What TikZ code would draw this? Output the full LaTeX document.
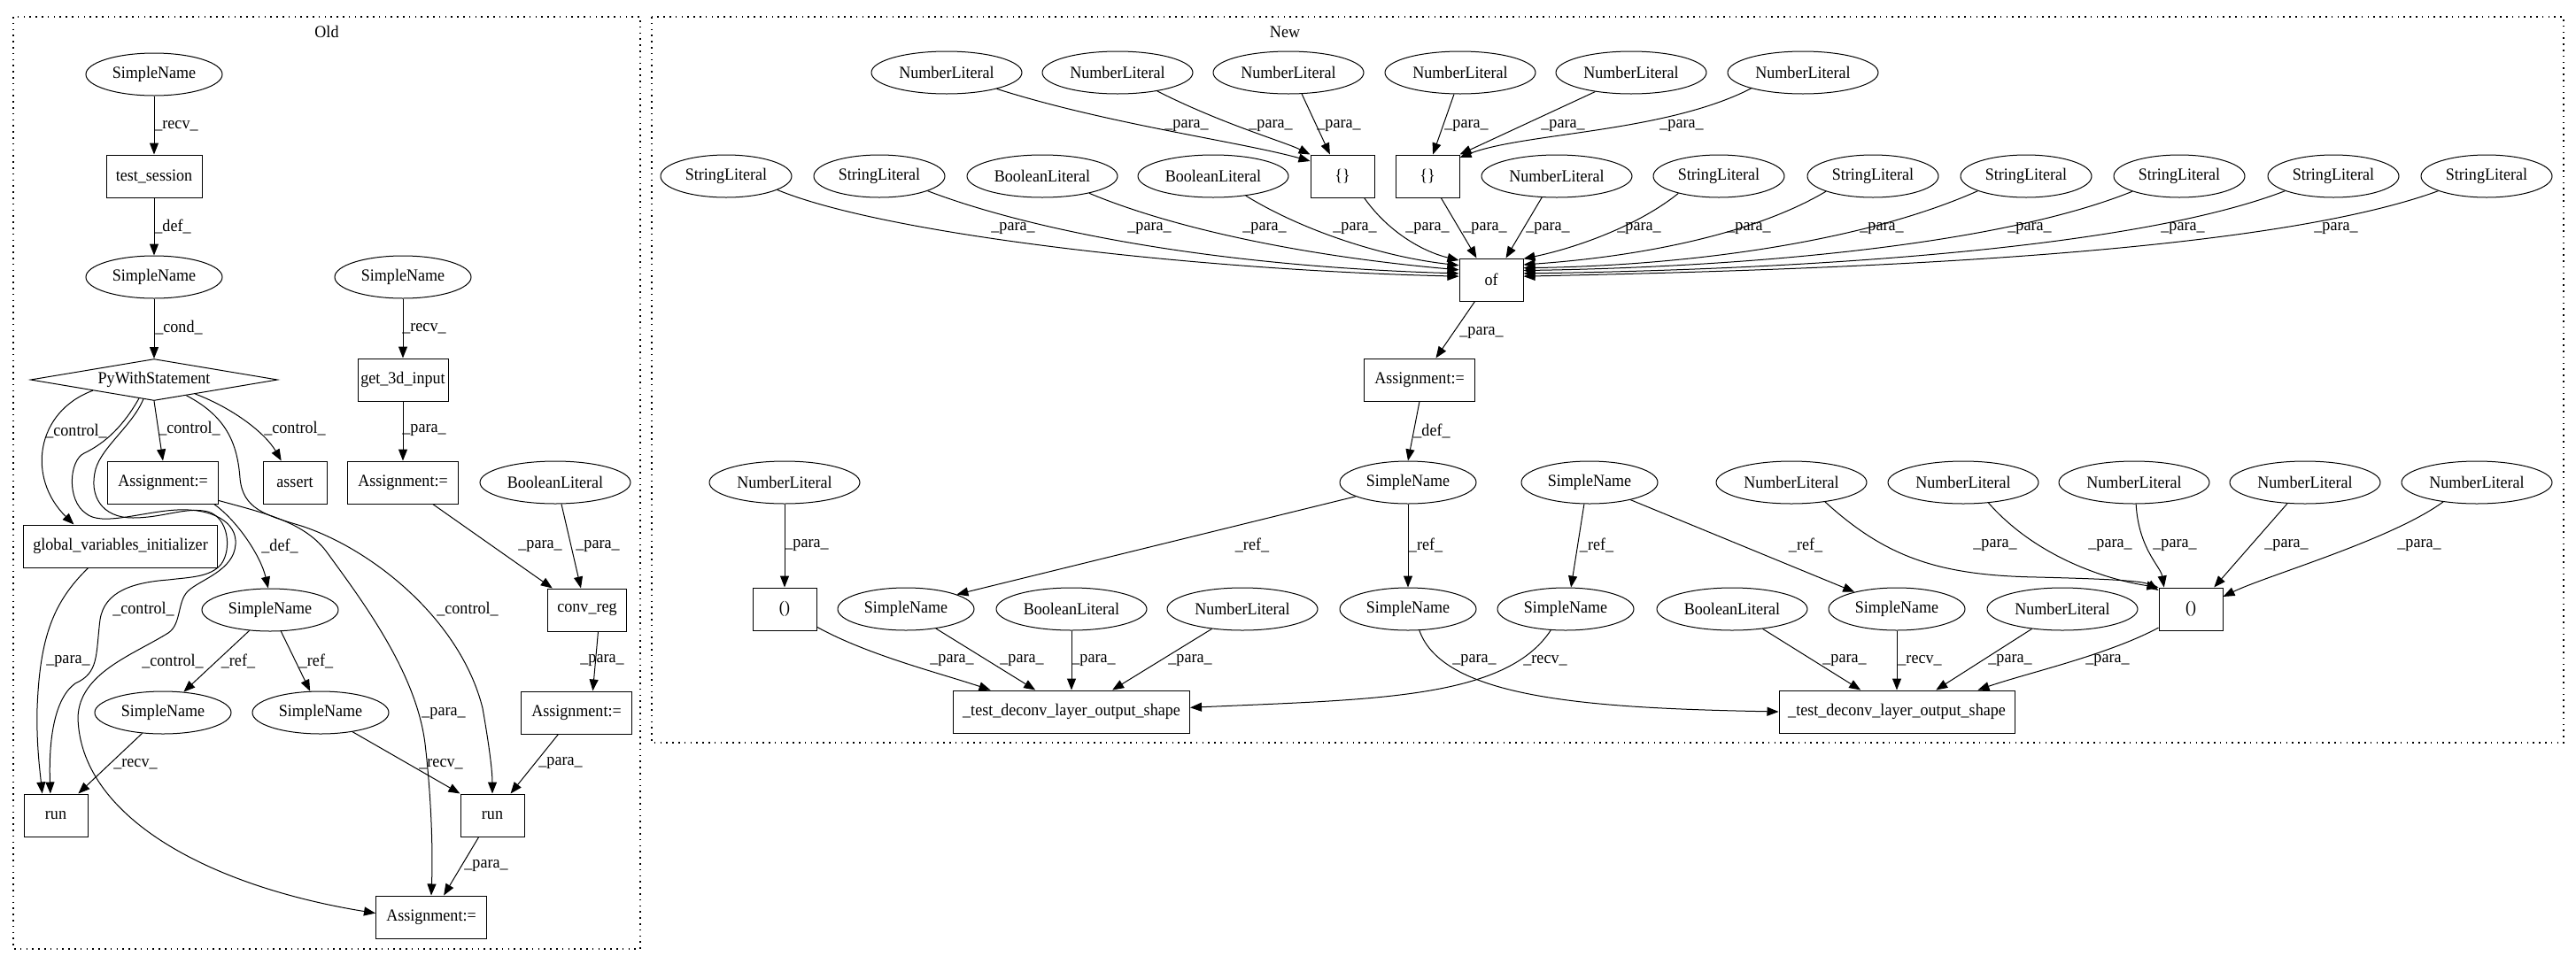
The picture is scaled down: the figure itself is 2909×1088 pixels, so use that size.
\documentclass[tikz,border=0pt]{standalone}
\usepackage{fontspec}
\setmainfont{Liberation Serif}[FakeStretch=0.94]
\usetikzlibrary{shapes.geometric,arrows.meta}
\newcommand\Lpara{\_para\_}
\newcommand\Lref{\_ref\_}
\newcommand\Lrecv{\_recv\_}
\newcommand\Ldef{\_def\_}
\newcommand\Lctrl{\_control\_}
\newcommand\Lcond{\_cond\_}
\begin{document}
\begin{tikzpicture}[x=0.5pt,y=-0.5pt,
  every node/.style={font=\fontsize{9.6}{10}\selectfont},
  ell/.style={draw,ellipse,line width=0.5pt,minimum width=77pt,minimum height=24pt,inner sep=0pt},
  nl/.style={ell,minimum width=85pt},
  sl/.style={ell,minimum width=74pt},
  bx/.style={draw,rectangle,line width=0.5pt,minimum height=24pt,inner sep=0pt},
  e/.style={draw,line width=0.5pt,-{Triangle[length=6.5pt,width=5pt]}},
  lbl/.style={inner sep=0pt},
  clu/.style={draw,line width=0.7pt,dash pattern=on 0.8pt off 2.6pt}]
\fill[white] (0,0) rectangle (2909,1088);
\useasboundingbox (0,0) rectangle (2909,1088);
% clusters
\draw[clu] (15,19) rectangle (723,1072);
\draw[clu] (736,19) rectangle (2895,839);
\node (oldlbl) at (369,36) {Old};
\node (newlbl) at (1451,36) {New};
% ---------------- Old ----------------
\node[ell] (osn1) at (174,84) {SimpleName};
\node[bx,minimum width=54pt] (ots) at (174,199) {test\_session};
\node[ell] (osn2) at (174,313) {SimpleName};
\node[draw,diamond,aspect=5.8,inner sep=0pt,minimum width=139.5pt,minimum height=23.5pt,line width=0.5pt] (opws) at (174,429) {PyWithStatement};
\node[ell] (osn3) at (455,313) {SimpleName};
\node[bx,minimum width=51pt] (og3d) at (455,429) {get\_3d\_input};
\node[bx,minimum width=62.5pt] (oas1) at (184,545) {Assignment:=};
\node[bx,minimum width=36pt] (oassert) at (333,545) {assert};
\node[bx,minimum width=62.5pt] (oas2) at (455,545) {Assignment:=};
\node[nl] (obl) at (627,545) {BooleanLiteral};
\node[bx,minimum width=109.5pt] (ogvi) at (136,617) {global\_variables\_initializer};
\node[ell] (osn4) at (305,689) {SimpleName};
\node[bx,minimum width=44.5pt] (oconv) at (663,689) {conv\_reg};
\node[ell] (osn5) at (184,805) {SimpleName};
\node[ell] (osn6) at (362,805) {SimpleName};
\node[bx,minimum width=62.5pt] (oas3) at (651,805) {Assignment:=};
\node[bx,minimum width=36pt] (orun1) at (63,921) {run};
\node[bx,minimum width=36pt] (orun2) at (556,921) {run};
\node[bx,minimum width=62.5pt] (oas4) at (487,1036) {Assignment:=};

\draw[e] (osn1) -- (ots);
\draw[e] (ots) -- (osn2);
\draw[e] (osn2) -- (opws);
\draw[e] (osn3) -- (og3d);
\draw[e] (og3d) -- (oas2);
\draw[e] (opws.south) -- (oas1.north);
\draw[e] (opws.-19) .. controls (265,462) and (300,490) .. (oassert.122);
\draw[e] (opws.-26) .. controls (255,470) and (268,500) .. (271,540) .. controls (274,575) and (300,582) .. (340,594) .. controls (420,620) and (520,700) .. (545,800) .. controls (552,840) and (556,870) .. (orun2.north);
\draw[e] (opws.190) .. controls (40,465) and (30,540) .. (ogvi.155);
\draw[e] (opws.231) .. controls (140,480) and (120,500) .. (95,512) .. controls (78,520) and (75,565) .. (97,580) .. controls (115,595) and (160,578) .. (200,576) .. controls (240,574) and (268,590) .. (266,615) .. controls (264,645) and (225,655) .. (212,668) .. controls (200,680) and (205,705) .. (190,715) .. controls (150,740) and (90,760) .. (88,810) .. controls (90,920) and (230,1000) .. (oas4.176);
\draw[e] (opws.241) .. controls (150,480) and (115,505) .. (108,530) .. controls (100,560) and (115,585) .. (150,585) .. controls (185,585) and (210,572) .. (235,578) .. controls (258,585) and (262,620) .. (250,637) .. controls (238,652) and (215,652) .. (190,655) .. controls (150,658) and (118,668) .. (113,700) .. controls (108,740) and (112,760) .. (85,772) .. controls (60,790) and (55,840) .. (orun1.104);
\draw[e] (ogvi.214) .. controls (60,680) and (45,720) .. (42,800) .. controls (41,840) and (45,870) .. (orun1.122);
\draw[e] (oas1.-23) .. controls (270,590) and (295,630) .. (osn4.95);
\draw[e] (oas1.-18) .. controls (300,580) and (345,590) .. (370,625) .. controls (410,680) and (470,760) .. (480,840) .. controls (487,900) and (489,960) .. (oas4.north);
\draw[e] (osn4.225) -- (osn5.45);
\draw[e] (osn4.-63) -- (osn6.116);
\draw[e] (osn5.225) -- (orun1.44);
\draw[e] (osn6.-31) -- (orun2.north west);
\draw[e] (obl.-74) -- (oconv.106);
\draw[e] (oas2.-36) -- (oconv.148);
\draw[e] (oconv.-63) -- (oas3.53);
\draw[e] (oas3.230) -- (orun2.50);
\draw[e] (orun2.238) -- (oas4.60);

\node[lbl] (ol1) at (199,142) {\Lrecv};
\node[lbl] (ol2) at (195,256) {\Ldef};
\node[lbl] (ol3) at (202,370) {\Lcond};
\node[lbl] (ol4) at (479,371) {\Lrecv};
\node[lbl] (ol5) at (86,487) {\Lctrl};
\node[lbl] (ol6) at (214,484) {\Lctrl};
\node[lbl] (ol7) at (333,484) {\Lctrl};
\node[lbl] (ol8) at (479,486) {\Lpara};
\node[lbl] (ol9) at (610,617) {\Lpara};
\node[lbl] (ol10) at (675,617) {\Lpara};
\node[lbl] (ol11) at (316,617) {\Ldef};
\node[lbl] (ol12) at (162,688) {\Lctrl};
\node[lbl] (ol13) at (528,688) {\Lctrl};
\node[lbl] (ol14) at (77,747) {\Lpara};
\node[lbl] (ol15) at (195,747) {\Lctrl};
\node[lbl] (ol16) at (269,747) {\Lref};
\node[lbl] (ol17) at (357,747) {\Lref};
\node[lbl] (ol18) at (680,746) {\Lpara};
\node[lbl] (ol19) at (501,806) {\Lpara};
\node[lbl] (ol20) at (153,863) {\Lrecv};
\node[lbl] (ol21) at (498,863) {\Lrecv};
\node[lbl] (ol22) at (633,862) {\Lpara};
\node[lbl] (ol23) at (549,978) {\Lpara};

% ---------------- New ----------------
\node[nl] (nt1) at (1069,82) {NumberLiteral};
\node[nl] (nt2) at (1262,82) {NumberLiteral};
\node[nl] (nt3) at (1455,82) {NumberLiteral};
\node[nl] (nt4) at (1649,82) {NumberLiteral};
\node[nl] (nt5) at (1842,82) {NumberLiteral};
\node[nl] (nt6) at (2036,82) {NumberLiteral};
\node[bx,minimum width=36pt] (nbr1) at (1516,199) {\{\}};
\node[bx,minimum width=36pt] (nbr2) at (1612,199) {\{\}};
\node[sl] (nsl1) at (820,199) {StringLiteral};
\node[sl] (nsl2) at (993,199) {StringLiteral};
\node[nl] (nbl1) at (1177,199) {BooleanLiteral};
\node[nl] (nbl2) at (1370,199) {BooleanLiteral};
\node[nl] (nnl7) at (1758,199) {NumberLiteral};
\node[sl] (nsl3) at (1941,199) {StringLiteral};
\node[sl] (nsl4) at (2115,199) {StringLiteral};
\node[sl] (nsl5) at (2288,199) {StringLiteral};
\node[sl] (nsl6) at (2461,199) {StringLiteral};
\node[sl] (nsl7) at (2635,199) {StringLiteral};
\node[sl] (nsl8) at (2808,199) {StringLiteral};
\node[bx,minimum width=36pt] (nof) at (1684,316) {of};
\node[bx,minimum width=62.5pt] (nas) at (1603,429) {Assignment:=};
\node[ell] (nsnA) at (1590,545) {SimpleName};
\node[ell] (nsnB) at (1795,545) {SimpleName};
\node[nl] (nnl8) at (886,545) {NumberLiteral};
\node[nl] (nnl9) at (2023,545) {NumberLiteral};
\node[nl] (nnl10) at (2217,545) {NumberLiteral};
\node[nl] (nnl11) at (2410,545) {NumberLiteral};
\node[nl] (nnl12) at (2603,545) {NumberLiteral};
\node[nl] (nnl13) at (2797,545) {NumberLiteral};
\node[bx,minimum width=36pt] (npar1) at (886,688) {()};
\node[bx,minimum width=36pt] (npar2) at (2474,688) {()};
\node[ell] (nsn1b) at (1023,688) {SimpleName};
\node[nl] (nbl3) at (1210,688) {BooleanLiteral};
\node[nl] (nnl14) at (1403,688) {NumberLiteral};
\node[ell] (nsn2b) at (1590,688) {SimpleName};
\node[ell] (nsn3b) at (1768,688) {SimpleName};
\node[nl] (nbl4) at (1956,688) {BooleanLiteral};
\node[ell] (nsn4b) at (2142,688) {SimpleName};
\node[nl] (nnl15) at (2329,688) {NumberLiteral};
\node[bx,minimum width=133.5pt] (nt1b) at (1210,804) {\_test\_deconv\_layer\_output\_shape};
\node[bx,minimum width=133pt] (nt2b) at (2142,804) {\_test\_deconv\_layer\_output\_shape};

% top -> {}
\draw[e] (nt1.-18) .. controls (1250,140) and (1400,160) .. (nbr1.155);
\draw[e] (nt2.-25) .. controls (1380,140) and (1450,160) .. (nbr1.north west);
\draw[e] (nt3.-58) -- (nbr1.120);
\draw[e] (nt4.254) -- (nbr2.76);
\draw[e] (nt5.208) -- (nbr2.north east);
\draw[e] (nt6.197) .. controls (1880,150) and (1720,150) .. (nbr2.30);
% fan into of
\draw[e] (nsl1.-15) .. controls (1000,265) and (1350,305) .. (nof.174);
\draw[e] (nsl2.-17) .. controls (1150,255) and (1350,300) .. (nof.169);
\draw[e] (nbl1.-20) .. controls (1330,260) and (1480,290) .. (nof.163);
\draw[e] (nbl2.-31) .. controls (1470,260) and (1560,290) .. (nof.156);
\draw[e] (nbr1.-45) .. controls (1570,265) and (1610,285) .. (nof.149);
\draw[e] (nbr2.-58) -- (nof.124);
\draw[e] (nnl7.235) -- (nof.56);
\draw[e] (nsl3.203) .. controls (1850,255) and (1780,280) .. (nof.33);
\draw[e] (nsl4.198) .. controls (1980,265) and (1850,290) .. (nof.25);
\draw[e] (nsl5.197) .. controls (2100,275) and (1900,300) .. (nof.20);
\draw[e] (nsl6.198) .. controls (2250,280) and (1950,302) .. (nof.16);
\draw[e] (nsl7.197) .. controls (2400,285) and (2000,305) .. (nof.11);
\draw[e] (nsl8.197) .. controls (2550,290) and (2050,305) .. (nof.6);
\draw[e] (nof.233) -- (nas.53);
\draw[e] (nas.south) -- (nsnA.north);
\draw[e] (nsnA.195) -- (nsn1b.16);
\draw[e] (nsnA.south) -- (nsn2b.north);
\draw[e] (nsnB.256) -- (nsn3b.76);
\draw[e] (nsnB.-23) -- (nsn4b.158);
\draw[e] (nnl8.south) -- (npar1.north);
\draw[e] (nnl9.-30) .. controls (2130,630) and (2190,650) .. (2300,652) .. controls (2380,654) and (2420,656) .. (npar2.150);
\draw[e] (nnl10.-39) .. controls (2300,630) and (2380,655) .. (npar2.north west);
\draw[e] (nnl11.-85) .. controls (2415,620) and (2440,640) .. (npar2.141);
\draw[e] (nnl12.230) -- (npar2.43);
\draw[e] (nnl13.210) .. controls (2700,610) and (2560,650) .. (npar2.21);
% into test boxes
\draw[e] (npar1.-29) .. controls (980,740) and (1060,760) .. (nt1b.165);
\draw[e] (nsn1b.-33) -- (nt1b.149);
\draw[e] (nbl3.south) -- (nt1b.north);
\draw[e] (nnl14.213) -- (nt1b.28);
\draw[e] (nsn3b.235) .. controls (1700,790) and (1550,790) .. (nt1b.2);
\draw[e] (nsn2b.-62) .. controls (1630,790) and (1800,800) .. (nt2b.west);
\draw[e] (nbl4.-33) -- (nt2b.149);
\draw[e] (nsn4b.south) -- (nt2b.north);
\draw[e] (nnl15.213) -- (nt2b.29);
\draw[e] (npar2.210) .. controls (2380,740) and (2290,760) .. (nt2b.15);

% labels New
\node[lbl] (nl1) at (1340,142) {\Lpara};
\node[lbl] (nl2) at (1435,142) {\Lpara};
\node[lbl] (nl3) at (1512,142) {\Lpara};
\node[lbl] (nl4) at (1656,142) {\Lpara};
\node[lbl] (nl5) at (1765,142) {\Lpara};
\node[lbl] (nl6) at (1899,142) {\Lpara};
\node[lbl] (nm1) at (1144,258) {\Lpara};
\node[lbl] (nm2) at (1298,258) {\Lpara};
\node[lbl] (nm3) at (1428,258) {\Lpara};
\node[lbl] (nm4) at (1530,258) {\Lpara};
\node[lbl] (nm5) at (1612,258) {\Lpara};
\node[lbl] (nm6) at (1677,258) {\Lpara};
\node[lbl] (nm7) at (1748,258) {\Lpara};
\node[lbl] (nm8) at (1851,258) {\Lpara};
\node[lbl] (nm9) at (1975,258) {\Lpara};
\node[lbl] (nm10) at (2125,258) {\Lpara};
\node[lbl] (nm11) at (2292,258) {\Lpara};
\node[lbl] (nm12) at (2465,258) {\Lpara};
\node[lbl] (nm13) at (2638,258) {\Lpara};
\node[lbl] (nx1) at (1673,376) {\Lpara};
\node[lbl] (nx2) at (1617,487) {\Ldef};
\node[lbl] (nr1) at (1414,616) {\Lref};
\node[lbl] (nr2) at (1610,616) {\Lref};
\node[lbl] (nr3) at (1803,616) {\Lref};
\node[lbl] (nr4) at (2039,616) {\Lref};
\node[lbl] (nr5) at (911,616) {\Lpara};
\node[lbl] (nr6) at (2253,616) {\Lpara};
\node[lbl] (nr7) at (2383,616) {\Lpara};
\node[lbl] (nr8) at (2456,616) {\Lpara};
\node[lbl] (nr9) at (2582,616) {\Lpara};
\node[lbl] (nr10) at (2732,616) {\Lpara};
\node[lbl] (nb1) at (1075,746) {\Lpara};
\node[lbl] (nb2) at (1154,746) {\Lpara};
\node[lbl] (nb3) at (1235,746) {\Lpara};
\node[lbl] (nb4) at (1344,746) {\Lpara};
\node[lbl] (nb5) at (1665,746) {\Lpara};
\node[lbl] (nb6) at (1745,746) {\Lrecv};
\node[lbl] (nb7) at (2083,746) {\Lpara};
\node[lbl] (nb8) at (2168,746) {\Lrecv};
\node[lbl] (nb9) at (2270,746) {\Lpara};
\node[lbl] (nb10) at (2380,746) {\Lpara};
\end{tikzpicture}
\end{document}
